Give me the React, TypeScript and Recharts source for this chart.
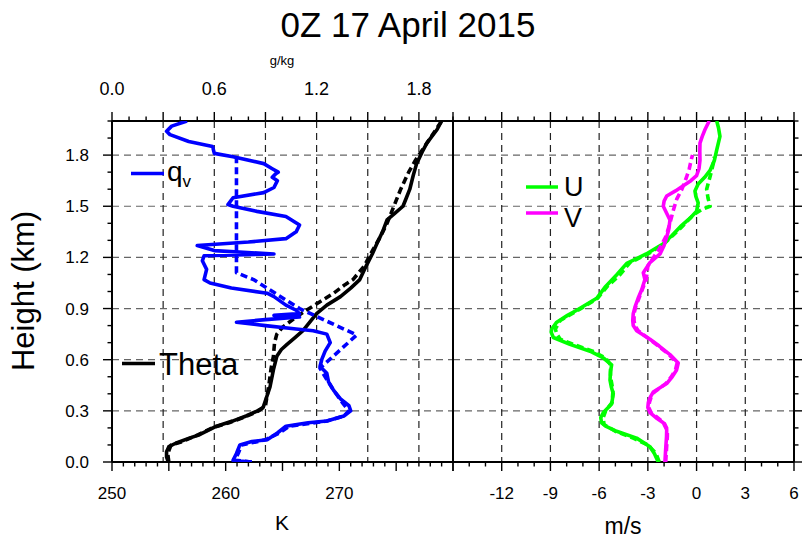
import React from 'react';
import { ScatterChart, Scatter, XAxis, YAxis, CartesianGrid } from 'recharts';

// profiles: [height km, value]
const thetaObs = [
  [0, 254.95], [0.03, 254.8], [0.06, 254.8], [0.09, 255.0], [0.11, 255.6], [0.14, 256.8], [0.16, 257.7],
  [0.21, 259.2], [0.24, 260.6], [0.27, 261.8], [0.3, 262.8], [0.32, 263.3], [0.44, 263.9], [0.54, 264.2],
  [0.62, 264.5], [0.66, 264.9], [0.69, 265.4], [0.73, 266.1], [0.77, 266.8], [0.82, 267.4], [0.87, 268.0],
  [0.92, 268.9], [0.97, 270.1], [1.02, 271.0], [1.07, 271.8], [1.155, 272.4], [1.22, 272.9], [1.28, 273.3],
  [1.35, 273.8], [1.42, 274.2], [1.46, 274.9], [1.5, 275.6], [1.55, 275.9], [1.6, 276.2], [1.68, 276.5],
  [1.75, 276.8], [1.82, 277.3], [1.87, 277.7], [1.95, 278.6], [2.0, 279.0],
];
const thetaMod = [
  [0, 255.0], [0.05, 254.9], [0.1, 255.2], [0.12, 256.2], [0.16, 257.6], [0.2, 258.8], [0.23, 260.3],
  [0.27, 261.9], [0.3, 262.9], [0.33, 263.5], [0.45, 263.8], [0.55, 264.0], [0.62, 264.2], [0.7, 264.3],
  [0.75, 264.5], [0.79, 265.0], [0.81, 265.4], [0.85, 266.2], [0.89, 267.1], [0.94, 268.3], [0.99, 269.5],
  [1.04, 270.5], [1.07, 271.2], [1.15, 272.2], [1.25, 273.0], [1.32, 273.6], [1.4, 274.2], [1.5, 274.8],
  [1.6, 275.4], [1.7, 276.1], [1.77, 276.7], [1.82, 277.2], [1.9, 278.0], [1.96, 278.6], [2.0, 279.0],
];
const qvObs = [
  [0, 0.82], [0.005, 0.75], [0.01, 0.71], [0.05, 0.73], [0.1, 0.75], [0.12, 0.82], [0.13, 0.91],
  [0.17, 0.97], [0.21, 1.02], [0.23, 1.15], [0.24, 1.26], [0.27, 1.36], [0.3, 1.4], [0.33, 1.39],
  [0.37, 1.34], [0.42, 1.3], [0.47, 1.27], [0.52, 1.26], [0.56, 1.22], [0.6, 1.23], [0.65, 1.25],
  [0.7, 1.28], [0.75, 1.26], [0.77, 1.18], [0.78, 1.08], [0.8, 0.9], [0.82, 0.73], [0.835, 0.9],
  [0.85, 1.1], [0.86, 0.95], [0.87, 1.1], [0.89, 1.08], [0.92, 1.02], [0.97, 0.95], [0.99, 0.91],
  [1.02, 0.7], [1.05, 0.575], [1.07, 0.54], [1.13, 0.555], [1.18, 0.53], [1.21, 0.54], [1.22, 0.95],
  [1.24, 0.6], [1.27, 0.5], [1.29, 0.8], [1.31, 1.02], [1.35, 1.08], [1.39, 1.1], [1.44, 1.02],
  [1.47, 0.85], [1.5, 0.71], [1.51, 0.68], [1.55, 0.71], [1.58, 0.89], [1.61, 0.95], [1.65, 0.97],
  [1.67, 0.94], [1.69, 0.96], [1.7, 0.975], [1.72, 0.94], [1.75, 0.89], [1.79, 0.71], [1.81, 0.6],
  [1.85, 0.59], [1.88, 0.45], [1.92, 0.34], [1.94, 0.32], [1.97, 0.35], [2.0, 0.44],
];
const qvMod = [
  [0, 0.82], [0.01, 0.72], [0.05, 0.74], [0.1, 0.76], [0.13, 0.9], [0.17, 0.98], [0.21, 1.04],
  [0.24, 1.26], [0.27, 1.36], [0.3, 1.39], [0.35, 1.35], [0.42, 1.3], [0.5, 1.25], [0.55, 1.22],
  [0.745, 1.435], [0.9, 1.1], [1.07, 0.83], [1.11, 0.73], [1.8, 0.73],
];
const uObs = [
  [0, -2.36], [0.05, -2.6], [0.09, -2.87], [0.14, -3.69], [0.18, -4.92], [0.21, -5.6], [0.23, -5.85],
  [0.26, -5.9], [0.29, -5.74], [0.34, -5.23], [0.4, -5.13], [0.44, -5.25], [0.48, -5.33], [0.53, -5.3],
  [0.57, -5.23], [0.61, -5.74], [0.65, -6.56], [0.69, -7.8], [0.73, -8.82], [0.76, -8.95], [0.78, -8.92],
  [0.82, -8.61], [0.86, -7.95], [0.89, -7.38], [0.96, -6.15], [1.03, -5.6], [1.1, -4.9], [1.165, -4.3],
  [1.22, -3.1], [1.28, -2.05], [1.33, -1.5], [1.38, -1.0], [1.43, -0.4], [1.47, 0.0], [1.52, 0.1],
  [1.56, -0.05], [1.59, -0.1], [1.63, 0.1], [1.67, 0.5], [1.71, 0.83], [1.77, 1.1], [1.83, 1.24],
  [1.91, 1.44], [1.96, 1.35], [2.0, 1.24],
];
const uMod = [
  [0, -2.3], [0.05, -2.5], [0.1, -3.0], [0.14, -3.9], [0.18, -5.0], [0.22, -5.7], [0.26, -5.75],
  [0.3, -5.6], [0.35, -5.2], [0.42, -5.15], [0.5, -5.3], [0.57, -5.3], [0.61, -5.6], [0.65, -6.4],
  [0.69, -7.6], [0.72, -8.4], [0.75, -8.6], [0.78, -8.7], [0.83, -8.4], [0.89, -7.3], [0.96, -6.1],
  [1.03, -5.5], [1.1, -4.7], [1.17, -4.1], [1.22, -3.0], [1.28, -2.0], [1.38, -0.9], [1.45, -0.2],
  [1.48, 0.3], [1.5, 0.83], [1.55, 0.7], [1.6, 0.62], [1.68, 0.85], [1.75, 1.03], [1.79, 1.1],
];
const vObs = [
  [0, -1.95], [0.08, -1.9], [0.15, -1.85], [0.19, -1.84], [0.23, -2.05], [0.26, -2.5], [0.29, -2.87],
  [0.32, -3.0], [0.35, -2.97], [0.38, -2.85], [0.41, -2.67], [0.46, -1.84], [0.5, -1.5], [0.54, -1.23],
  [0.58, -1.13], [0.63, -1.64], [0.68, -2.3], [0.72, -2.87], [0.77, -3.69], [0.8, -3.9], [0.83, -3.93],
  [0.87, -3.9], [0.91, -3.79], [0.96, -3.6], [1.01, -3.38], [1.07, -3.18], [1.11, -3.28], [1.17, -2.87],
  [1.22, -2.25], [1.27, -2.0], [1.32, -1.84], [1.37, -1.7], [1.42, -1.64], [1.46, -1.85], [1.5, -2.05],
  [1.53, -2.0], [1.56, -1.84], [1.59, -1.3], [1.62, -0.82], [1.65, -0.35], [1.68, 0.0], [1.72, 0.15],
  [1.77, 0.21], [1.82, 0.2], [1.87, 0.21], [1.91, 0.35], [1.95, 0.52], [2.0, 0.78],
];
const vMod = [
  [0, -1.9], [0.08, -1.85], [0.15, -1.8], [0.19, -1.8], [0.23, -2.0], [0.26, -2.4], [0.29, -2.8],
  [0.32, -2.95], [0.35, -2.9], [0.38, -2.8], [0.41, -2.6], [0.46, -1.9], [0.5, -1.55], [0.54, -1.3],
  [0.58, -1.2], [0.63, -1.7], [0.68, -2.35], [0.72, -2.9], [0.77, -3.6], [0.8, -3.8], [0.83, -3.85],
  [0.87, -3.85], [0.91, -3.75], [0.96, -3.55], [1.01, -3.35], [1.07, -3.1], [1.15, -3.0], [1.25, -2.3],
  [1.32, -1.9], [1.4, -1.64], [1.47, -1.45], [1.54, -1.23], [1.6, -0.9], [1.67, -0.62], [1.72, -0.45],
  [1.78, -0.31], [1.8, -0.25],
];

const heightLabels = [0, 0.3, 0.6, 0.9, 1.2, 1.5, 1.8];
const qLabels = [0, 0.6, 1.2, 1.8];
const kLabels = [250, 260, 270];
const windLabels = [-12, -9, -6, -3, 0, 3, 6];
const qGrid = [0.3, 0.6, 0.9, 1.2, 1.5, 1.8];
const windGrid = [-12, -9, -6, -3, 0, 3];

const range = (a: number, b: number, step: number) => {
  const out: number[] = [];
  const n = Math.round((b - a) / step);
  for (let i = 0; i <= n; i++) out.push(Number((a + i * step).toFixed(3)));
  return out;
};

const FONT = 'Liberation Sans, Arial, Helvetica, sans-serif';
const BLUE = '#0000ff';
const GREEN = '#00ff00';
const MAGENTA = '#ff00ff';
const DASH = '7 4';

const toPts = (arr: number[][]) => arr.map(([h, x]) => ({ h, x }));
const isMult = (v: number, step: number) => Math.abs(v / step - Math.round(v / step)) < 1e-6;
const has = (list: number[], v: number) => list.some((l) => Math.abs(l - v) < 1e-6);

const makeTick = (side: string, major: number, labels: number[], fmt: (v: number) => string) => (props: any) => {
  const { x, y, payload } = props;
  const v = payload.value;
  const len = isMult(v, major) ? 9 : 4.5;
  const show = has(labels, v);
  let line;
  let text = null;
  if (side === 'bottom') {
    line = <line x1={x} y1={y} x2={x} y2={y + len} stroke="#000" strokeWidth={1.4} />;
    if (show) text = <text x={x} y={y + 37} textAnchor="middle" fontSize={17} fontFamily={FONT}>{fmt(v)}</text>;
  } else if (side === 'top') {
    line = <line x1={x} y1={y} x2={x} y2={y - len} stroke="#000" strokeWidth={1.4} />;
    if (show) text = <text x={x} y={y - 26} textAnchor="middle" fontSize={18} fontFamily={FONT}>{fmt(v)}</text>;
  } else if (side === 'left') {
    line = <line x1={x} y1={y} x2={x - len} y2={y} stroke="#000" strokeWidth={1.4} />;
    if (show) text = <text x={x - 23} y={y + 6} textAnchor="end" fontSize={17} fontFamily={FONT}>{fmt(v)}</text>;
  } else {
    line = <line x1={x} y1={y} x2={x + len} y2={y} stroke="#000" strokeWidth={1.4} />;
  }
  return <g>{line}{text}</g>;
};

const noShape = () => <g />;
const axisLine = { stroke: '#000', strokeWidth: 2 };
const fmt1 = (v: number) => v.toFixed(1);
const fmt0 = (v: number) => String(v);

const commonAxis = {
  tickLine: false,
  tickSize: 0,
  tickMargin: 0,
  interval: 0 as const,
  allowDataOverflow: true,
  axisLine,
};

const profile = (data: number[][], xId: string, yId: string, color: string, dashed: boolean, key: string) => (
  <Scatter
    key={key}
    data={toPts(data)}
    xAxisId={xId}
    yAxisId={yId}
    fill={color}
    shape={noShape}
    line={{ stroke: color, strokeWidth: 3.6, strokeDasharray: dashed ? DASH : undefined, strokeLinejoin: 'round' }}
    isAnimationActive={false}
    legendType="none"
  />
);

export default function App() {
  const abs: React.CSSProperties = { position: 'absolute', left: 0, top: 0 };
  return (
    <div style={{ position: 'absolute', left: 0, top: 0, width: 802, height: 544, background: '#fff', overflow: 'hidden' }}>
      <div style={abs}>
        <ScatterChart width={470} height={544} margin={{ top: 81, right: 17, bottom: 42, left: 52 }}>
          <CartesianGrid xAxisId="q" yAxisId="h" vertical={false} horizontalValues={heightLabels.slice(1)} stroke="#666" strokeDasharray="7 5" strokeWidth={1.2} />
          <CartesianGrid xAxisId="q" yAxisId="h" horizontal={false} verticalValues={qGrid} stroke="#222" strokeDasharray="7 5" strokeWidth={1.2} />
          <XAxis xAxisId="k" orientation="bottom" type="number" dataKey="x" domain={[250, 280]} ticks={range(250, 280, 1)} height={40}
            tick={makeTick('bottom', 5, kLabels, fmt0)} {...commonAxis} />
          <XAxis xAxisId="q" orientation="top" type="number" dataKey="x" domain={[0, 2]} ticks={range(0, 2, 0.1)} height={40}
            tick={makeTick('top', 0.3, qLabels, fmt1)} {...commonAxis} />
          <YAxis yAxisId="h" orientation="left" type="number" dataKey="h" domain={[0, 2]} ticks={range(0, 2, 0.1)} width={60}
            tick={makeTick('left', 0.3, heightLabels, fmt1)} {...commonAxis} />
          <YAxis yAxisId="edge" orientation="right" type="number" dataKey="h" domain={[0, 2]} width={0} tick={false} {...commonAxis} />
          {profile(thetaMod, 'k', 'h', '#000', true, 'tm')}
          {profile(thetaObs, 'k', 'h', '#000', false, 'to')}
          {profile(qvMod, 'q', 'h', BLUE, true, 'qm')}
          {profile(qvObs, 'q', 'h', BLUE, false, 'qo')}
        </ScatterChart>
      </div>
      <div style={abs}>
        <ScatterChart width={802} height={544} margin={{ top: 81, right: 0, bottom: 42, left: 452 }}>
          <CartesianGrid xAxisId="wb" yAxisId="hr" vertical={false} horizontalValues={heightLabels.slice(1)} stroke="#666" strokeDasharray="7 5" strokeWidth={1.2} />
          <CartesianGrid xAxisId="wb" yAxisId="hr" horizontal={false} verticalValues={windGrid} stroke="#222" strokeDasharray="7 5" strokeWidth={1.2} />
          <XAxis xAxisId="wb" orientation="bottom" type="number" dataKey="x" domain={[-15, 6]} ticks={range(-15, 6, 1)} height={40}
            tick={makeTick('bottom', 3, windLabels, fmt0)} {...commonAxis} />
          <XAxis xAxisId="wt" orientation="top" type="number" dataKey="x" domain={[-15, 6]} ticks={range(-15, 6, 1)} height={40}
            tick={makeTick('top', 3, [], fmt0)} {...commonAxis} />
          <YAxis yAxisId="hl" orientation="left" type="number" dataKey="h" domain={[0, 2]} width={1} tick={false} {...commonAxis} />
          <YAxis yAxisId="hr" orientation="right" type="number" dataKey="h" domain={[0, 2]} ticks={range(0, 2, 0.1)} width={8}
            tick={makeTick('right', 0.3, [], fmt1)} {...commonAxis} />
          {profile(uMod, 'wb', 'hr', GREEN, true, 'um')}
          {profile(uObs, 'wb', 'hr', GREEN, false, 'uo')}
          {profile(vMod, 'wb', 'hr', MAGENTA, true, 'vm')}
          {profile(vObs, 'wb', 'hr', MAGENTA, false, 'vo')}
        </ScatterChart>
      </div>
      <svg width={802} height={544} style={{ ...abs, pointerEvents: 'none' }} fontFamily={FONT}>
        <text x={408} y={37} textAnchor="middle" fontSize={35}>0Z 17 April 2015</text>
        <text x={282} y={65} textAnchor="middle" fontSize={13}>g/kg</text>
        <text x={282} y={530} textAnchor="middle" fontSize={21}>K</text>
        <text x={623} y={534} textAnchor="middle" fontSize={23}>m/s</text>
        <text x={34} y={291} textAnchor="middle" fontSize={31} transform="rotate(-90 34 291)">Height (km)</text>
        <line x1={131} y1={173.5} x2={164} y2={173.5} stroke={BLUE} strokeWidth={3.5} />
        <text x={167} y={181} fontSize={28}>q<tspan fontSize={17} dy={6}>v</tspan></text>
        <line x1={122} y1={363.5} x2={155} y2={363.5} stroke="#000" strokeWidth={3.5} />
        <text x={159} y={375} fontSize={31}>Theta</text>
        <line x1={526} y1={187} x2={558} y2={187} stroke={GREEN} strokeWidth={3.5} />
        <line x1={526} y1={213} x2={558} y2={213} stroke={MAGENTA} strokeWidth={3.5} />
        <text x={564} y={196} fontSize={27}>U</text>
        <text x={564} y={227} fontSize={27}>V</text>
      </svg>
    </div>
  );
}
